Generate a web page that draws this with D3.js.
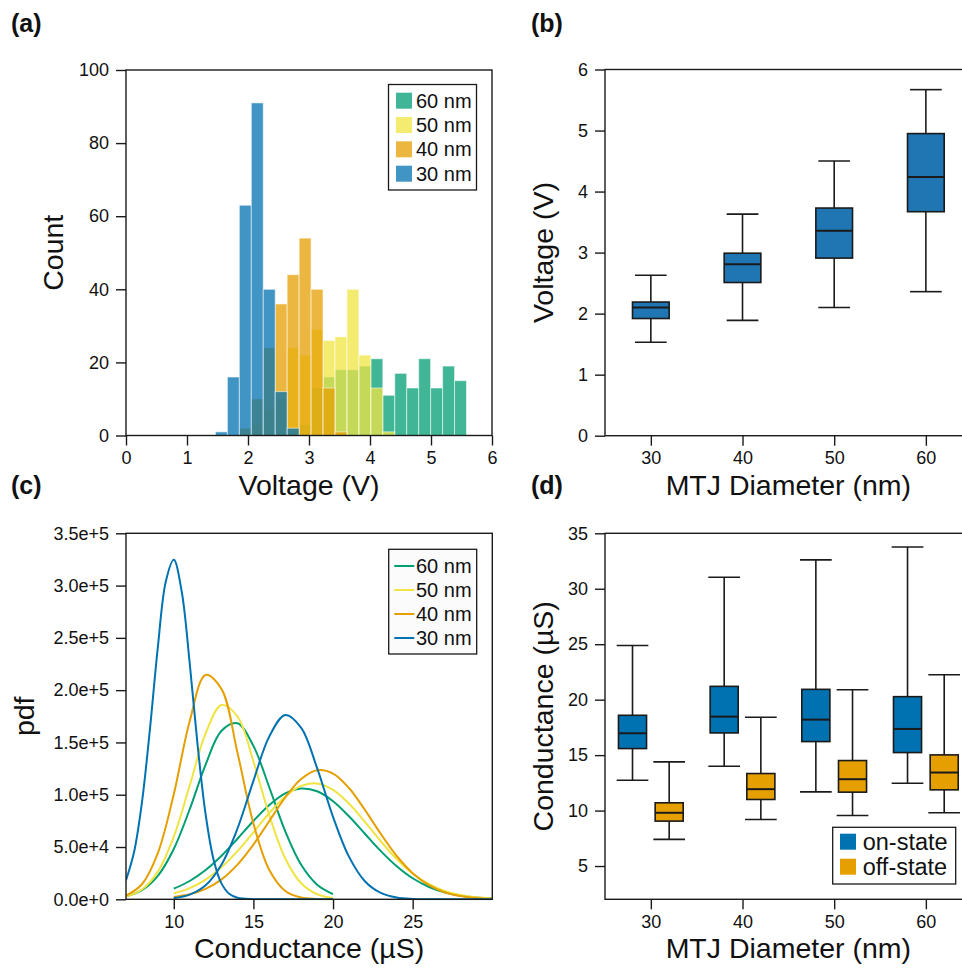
<!DOCTYPE html>
<html><head><meta charset="utf-8">
<script src="https://cdn.jsdelivr.net/npm/d3@7/dist/d3.min.js"></script>
<style>
body{margin:0;background:#fff}
svg{display:block;font-family:"Liberation Sans",Arial,Helvetica,sans-serif}
</style>
</head><body>
<svg id="chart" width="962" height="968"></svg>
<script>
// ---------------- DATA ----------------
// (a) histogram of switching voltage
const histBinEdges = [1.466,1.662,1.858,2.054,2.25,2.446,2.642,2.838,3.034,3.23,3.426,3.622,3.818,4.014,4.21,4.406,4.602,4.798,4.994,5.19,5.386,5.582];
const histNames = ["60 nm","50 nm","40 nm","30 nm"];
const hist60 = [0,0,0,0,0,0,0,3,13,16,18,18,19,21,11,17,13,21,13,19,15];
const hist50 = [0,0,0,3,7,10,24,22,29,26,27,40,22,13,1,0,0,0,0,0,0];
const hist40 = [0,0,2,10,24,36,44,54,40,13,1,0,0,0,0,0,0,0,0,0,0];
const hist30 = [1,16,63,91,40,12,2,0,0,0,0,0,0,0,0,0,0,0,0,0,0];
const histXTicks = [0,1,2,3,4,5,6];
const histYTicks = [0,20,40,60,80,100];

// (b) voltage box plot
const diameters = [30,40,50,60];
const voltMin = [1.53,1.89,2.10,2.36];
const voltQ1  = [1.92,2.51,2.91,3.67];
const voltMed = [2.10,2.81,3.36,4.24];
const voltQ3  = [2.19,2.99,3.73,4.95];
const voltMax = [2.63,3.63,4.50,5.67];
const voltYTicks = [0,1,2,3,4,5,6];

// (c) conductance pdfs (values in units of 1e5 per S)
const pdfNames = ["60 nm","50 nm","40 nm","30 nm"];
const offX30 = [7,7.5,8,8.5,9,9.5,10,10.5,11,11.5,12,12.5,13,13.5,14,15,16,18,20];
const offY30 = [0.183,0.447,0.925,1.622,2.412,3.040,3.247,2.941,2.258,1.469,0.811,0.379,0.150,0.050,0.014,0.001,0,0,0];
const offX = [7,8,9,10,11,12,13,14,15,16,17,18,19,20];
const offY40 = [0.035,0.144,0.442,1.005,1.703,2.145,2.010,1.401,0.726,0.280,0.080,0.017,0.003,0.0];
const offY50 = [0.027,0.094,0.265,0.600,1.088,1.587,1.858,1.748,1.320,0.801,0.390,0.153,0.048,0.012];
const offY60 = [0.028,0.087,0.224,0.481,0.861,1.289,1.612,1.683,1.467,1.069,0.650,0.330,0.140,0.050];
const onX = [10,11,12,13,14,15,16,17,18,19,20,21,22,23,24,25,26,27,28,29,30];
const onY30 = [0.012,0.045,0.134,0.333,0.677,1.133,1.558,1.763,1.640,1.254,0.789,0.408,0.173,0.061,0.017,0.004,0.001,0,0,0,0];
const onY40 = [0.021,0.048,0.100,0.191,0.332,0.523,0.749,0.974,1.150,1.234,1.202,1.064,0.855,0.625,0.414,0.250,0.137,0.068,0.031,0.013,0.005];
const onY50 = [0.057,0.107,0.188,0.306,0.460,0.640,0.825,0.983,1.085,1.108,1.047,0.916,0.741,0.555,0.385,0.247,0.147,0.081,0.041,0.019,0.008];
const onY60 = [0.102,0.175,0.280,0.417,0.579,0.749,0.902,1.013,1.059,1.033,0.938,0.794,0.627,0.461,0.316,0.201,0.120,0.066,0.034,0.017,0.007];
const pdfXTicks = [10,15,20,25];
const pdfYTicks = [0,0.5,1,1.5,2,2.5,3,3.5];
const pdfYTickLabels = ["0.0e+0","5.0e+4","1.0e+5","1.5e+5","2.0e+5","2.5e+5","3.0e+5","3.5e+5"];

// (d) conductance box plot
const stateNames = ["on-state","off-state"];
const onMin = [12.74,14.0,11.69,12.47];
const onQ1  = [15.59,17.0,16.22,15.23];
const onMed = [16.97,18.47,18.2,17.36];
const onQ3  = [18.59,21.2,20.93,20.27];
const onMax = [24.89,31.04,32.6,33.77];
const offMin = [7.40,9.2,9.56,9.8];
const offQ1  = [9.05,11.0,11.66,11.87];
const offMed = [9.80,11.93,12.83,13.43];
const offQ3  = [10.70,13.34,14.51,15.02];
const offMax = [14.39,18.41,20.9,22.25];
const condYTicks = [5,10,15,20,25,30,35];

// ---------------- STYLE ----------------
const C = {green:"#009E73", yellow:"#F0E442", orange:"#E69F00", blue:"#0072B2", boxB:"#1F76B3", ink:"#1a1a1a"};
const TICK_FS = 18, TITLE_FS = 28.5, LEG_FS = 20, LEGD_FS = 23.5, LAB_FS = 25;

const svg = d3.select("#chart");

function frame(g, L, R, T, B){
  g.append("rect").attr("x",L).attr("y",T).attr("width",R-L).attr("height",B-T)
    .attr("fill","none").attr("stroke",C.ink).attr("stroke-width",1.4);
}
function styleAxis(sel){
  sel.select(".domain").remove();
  sel.selectAll(".tick line").attr("stroke",C.ink).attr("stroke-width",1.4);
  sel.selectAll(".tick text").attr("fill","#111").style("font-size",TICK_FS+"px")
     .style("font-family","'Liberation Sans',Arial,Helvetica,sans-serif");
}
function axes(x, y, L, B, xt, yt, yfmt, xfmt){
  const gx = svg.append("g").attr("transform",`translate(0,${B})`)
    .call(d3.axisBottom(x).tickValues(xt).tickSize(10).tickPadding(6).tickFormat(xfmt||d3.format("d")));
  styleAxis(gx);
  const gy = svg.append("g").attr("transform",`translate(${L},0)`)
    .call(d3.axisLeft(y).tickValues(yt).tickSize(10).tickPadding(7).tickFormat(yfmt||d3.format("d")));
  styleAxis(gy);
}
function xTitle(text, cx, yb){
  svg.append("text").attr("x",cx).attr("y",yb).attr("text-anchor","middle")
    .style("font-size",TITLE_FS+"px").attr("fill","#111").text(text);
}
function yTitle(text, xb, cy){
  svg.append("text").attr("transform",`translate(${xb},${cy}) rotate(-90)`).attr("text-anchor","middle")
    .style("font-size",TITLE_FS+"px").attr("fill","#111").text(text);
}
function panelLabel(text, x, y){
  svg.append("text").attr("x",x).attr("y",y).style("font-size",LAB_FS+"px")
    .style("font-weight","bold").attr("fill","#111").text(text);
}

// ---------------- (a) HISTOGRAM ----------------
{
  const L=126, R=492, T=70, B=435.5;
  const x = d3.scaleLinear().domain([0,6]).range([L,R]);
  const y = d3.scaleLinear().domain([0,100]).range([B,T]);
  const series = [
    {name:histNames[0], counts:hist60, color:C.green},
    {name:histNames[1], counts:hist50, color:C.yellow},
    {name:histNames[2], counts:hist40, color:C.orange},
    {name:histNames[3], counts:hist30, color:C.blue}
  ];
  series.forEach(s=>{
    const bins = s.counts.map((c,i)=>({x0:histBinEdges[i], x1:histBinEdges[i+1], c})).filter(d=>d.c>0);
    svg.append("g").selectAll("rect").data(bins).join("rect")
      .attr("x",d=>x(d.x0)).attr("width",d=>x(d.x1)-x(d.x0))
      .attr("y",d=>y(d.c)).attr("height",d=>y(0)-y(d.c))
      .attr("fill",s.color).attr("fill-opacity",0.75)
      .attr("stroke","#fff").attr("stroke-opacity",0.55).attr("stroke-width",1);
  });
  frame(svg, L, R, T, B);
  axes(x, y, L, B, histXTicks, histYTicks);
  // legend
  const lg = svg.append("g");
  lg.append("rect").attr("x",388.5).attr("y",84.5).attr("width",88).attr("height",105.5)
    .attr("fill","#fff").attr("stroke",C.ink).attr("stroke-width",1.3);
  const rows=[100.7,125,149.3,173.7];
  series.forEach((s,i)=>{
    lg.append("rect").attr("x",396).attr("y",rows[i]-8).attr("width",16).attr("height",16)
      .attr("fill",s.color).attr("fill-opacity",0.75);
    lg.append("text").attr("x",416).attr("y",rows[i]+7).style("font-size",LEG_FS+"px").attr("fill","#111").text(s.name);
  });
  xTitle("Voltage (V)", (L+R)/2, B+59);
  yTitle("Count", 63, (T+B)/2);
  panelLabel("(a)", 11, 32);
}

// ---------------- (b) VOLTAGE BOX PLOT ----------------
function boxPlot(x, y, xc, half, capHalf, mn, q1, md, q3, mx, fill){
  const g = svg.append("g");
  g.append("line").attr("x1",x(xc)).attr("x2",x(xc)).attr("y1",y(mx)).attr("y2",y(q3)).attr("stroke",C.ink).attr("stroke-width",1.6);
  g.append("line").attr("x1",x(xc)).attr("x2",x(xc)).attr("y1",y(q1)).attr("y2",y(mn)).attr("stroke",C.ink).attr("stroke-width",1.6);
  g.append("line").attr("x1",x(xc-capHalf)).attr("x2",x(xc+capHalf)).attr("y1",y(mx)).attr("y2",y(mx)).attr("stroke",C.ink).attr("stroke-width",1.6);
  g.append("line").attr("x1",x(xc-capHalf)).attr("x2",x(xc+capHalf)).attr("y1",y(mn)).attr("y2",y(mn)).attr("stroke",C.ink).attr("stroke-width",1.6);
  g.append("rect").attr("x",x(xc-half)).attr("width",x(xc+half)-x(xc-half))
    .attr("y",y(q3)).attr("height",y(q1)-y(q3)).attr("fill",fill).attr("stroke",C.ink).attr("stroke-width",1.6);
  g.append("line").attr("x1",x(xc-half)).attr("x2",x(xc+half)).attr("y1",y(md)).attr("y2",y(md)).attr("stroke",C.ink).attr("stroke-width",2);
}
{
  const L=605, R=971.7, T=69.5, B=435.7;
  const x = d3.scaleLinear().domain([25,65]).range([L,R]);
  const y = d3.scaleLinear().domain([0,6]).range([B,T]);
  diameters.forEach((d,i)=>boxPlot(x,y,d,2,1.73,voltMin[i],voltQ1[i],voltMed[i],voltQ3[i],voltMax[i],C.boxB));
  frame(svg, L, R, T, B);
  axes(x, y, L, B, diameters, voltYTicks);
  xTitle("MTJ Diameter (nm)", (L+R)/2, B+59);
  yTitle("Voltage (V)", 552.5, (T+B)/2);
  panelLabel("(b)", 531, 32);
}

// ---------------- (c) PDF CURVES ----------------
{
  const L=126, R=492.3, T=533.3, B=899.3;
  const x = d3.scaleLinear().domain([7,30]).range([L,R]);
  const y = d3.scaleLinear().domain([0,3.5]).range([B,T]);
  const line = d3.line().x(d=>x(d[0])).y(d=>y(Math.max(0,d[1]))).curve(d3.curveCatmullRom.alpha(0.5));
  const curves = [
    {xs:onX, ys:onY60, color:C.green},
    {xs:offX, ys:offY60, color:C.green},
    {xs:onX, ys:onY50, color:C.yellow},
    {xs:offX, ys:offY50, color:C.yellow},
    {xs:onX, ys:onY40, color:C.orange},
    {xs:offX, ys:offY40, color:C.orange},
    {xs:onX, ys:onY30, color:C.blue},
    {xs:offX30, ys:offY30, color:C.blue}
  ];
  svg.append("clipPath").attr("id","clipC").append("rect")
    .attr("x",L).attr("y",T).attr("width",R-L).attr("height",B-T+1);
  const cg = svg.append("g").attr("clip-path","url(#clipC)");
  curves.forEach(c=>{
    cg.append("path").datum(c.xs.map((v,i)=>[v,c.ys[i]])).attr("d",line)
      .attr("fill","none").attr("stroke",c.color).attr("stroke-width",2);
  });
  frame(svg, L, R, T, B);
  axes(x, y, L, B, pdfXTicks, pdfYTicks, (d,i)=>pdfYTickLabels[i]);
  const lg = svg.append("g");
  lg.append("rect").attr("x",388.7).attr("y",549.3).attr("width",88).attr("height",104.7)
    .attr("fill","#fbfbfb").attr("stroke",C.ink).attr("stroke-width",1.3);
  const rows=[566,590,614,638];
  const cols=[C.green,C.yellow,C.orange,C.blue];
  pdfNames.forEach((n,i)=>{
    lg.append("line").attr("x1",394.3).attr("x2",414.3).attr("y1",rows[i]).attr("y2",rows[i])
      .attr("stroke",cols[i]).attr("stroke-width",2);
    lg.append("text").attr("x",416).attr("y",rows[i]+7).style("font-size",LEG_FS+"px").attr("fill","#111").text(n);
  });
  xTitle("Conductance (\u00B5S)", (L+R)/2, B+59);
  yTitle("pdf", 34, (T+B)/2);
  panelLabel("(c)", 11, 494);
}

// ---------------- (d) CONDUCTANCE BOX PLOT ----------------
{
  const L=605, R=971.7, T=533.3, B=899.3;
  const x = d3.scaleLinear().domain([25,65]).range([L,R]);
  const y = d3.scaleLinear().domain([2,35]).range([B,T]);
  diameters.forEach((d,i)=>{
    boxPlot(x,y,d-2,1.53,1.73,onMin[i],onQ1[i],onMed[i],onQ3[i],onMax[i],C.blue);
    boxPlot(x,y,d+2,1.53,1.73,offMin[i],offQ1[i],offMed[i],offQ3[i],offMax[i],C.orange);
  });
  frame(svg, L, R, T, B);
  axes(x, y, L, B, diameters, condYTicks);
  const lg = svg.append("g");
  lg.append("rect").attr("x",832.7).attr("y",827.3).attr("width",123).attr("height",56.7)
    .attr("fill","#fff").attr("stroke",C.ink).attr("stroke-width",1.3);
  const rows=[841.7,866.7];
  const cols=[C.blue,C.orange];
  stateNames.forEach((n,i)=>{
    lg.append("rect").attr("x",840).attr("y",rows[i]-8).attr("width",16).attr("height",16).attr("fill",cols[i]);
    lg.append("text").attr("x",862.7).attr("y",rows[i]+8).style("font-size",LEGD_FS+"px").attr("fill","#111").text(n);
  });
  xTitle("MTJ Diameter (nm)", (L+R)/2, B+59);
  yTitle("Conductance (\u00B5S)", 552.5, (T+B)/2);
  panelLabel("(d)", 531, 494);
}
</script>
</body></html>
